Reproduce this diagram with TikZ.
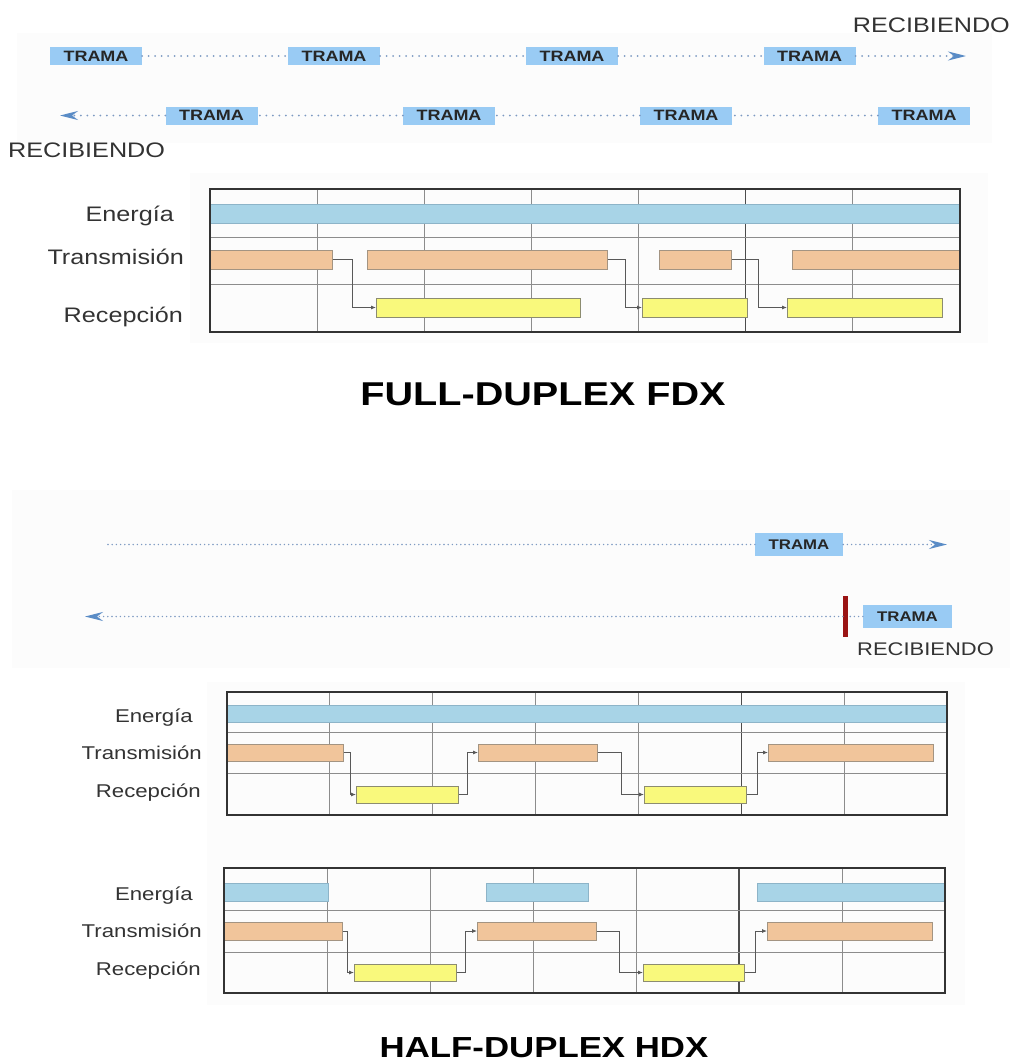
\documentclass[tikz,border=0pt]{standalone}
\usepackage{fontspec}
\setmainfont{Liberation Sans}
\newfontfamily\wide{Liberation Sans}[FakeStretch=1.2]
\usetikzlibrary{arrows.meta}

\definecolor{tramablue}{HTML}{99CBF4}
\definecolor{dotcol}{HTML}{7D9AC2}
\definecolor{arrowcol}{HTML}{5A8CC6}
\definecolor{enfill}{HTML}{A8D4E7}
\definecolor{enedge}{HTML}{8DB4C8}
\definecolor{txfill}{HTML}{F1C59B}
\definecolor{txedge}{HTML}{A39482}
\definecolor{rxfill}{HTML}{F9F97C}
\definecolor{rxedge}{HTML}{8C8C70}
\definecolor{redbar}{HTML}{9A1414}

\tikzset{
  panel/.style={fill=black!1},
  trama/.style={fill=tramablue,inner sep=0pt,text=black!85,
    font=\wide\bfseries\fontsize{15}{15}\selectfont,minimum width=92,minimum height=18},
  dots/.style={draw=dotcol,line width=2pt,line cap=round,dash pattern=on 0pt off 6.5pt},
  fine dots/.style={dots,line width=1.6pt,dash pattern=on 0pt off 4.2pt},
  tip/.style={-{Stealth[length=18pt,width=9pt,inset=6pt,color=arrowcol]}},
  lbl/.style={text=black!80,inner sep=0pt},
  gridln/.style={draw=black!45,line width=0.9pt},
  frame/.style={draw=black!80,line width=2.4pt},
  enbar/.style={fill=enfill,draw=enedge,line width=0.7pt,inner sep=0pt},
  txbar/.style={fill=txfill,draw=txedge,line width=0.7pt,inner sep=0pt},
  rxbar/.style={fill=rxfill,draw=rxedge,line width=0.7pt,inner sep=0pt},
  link/.style={draw=black!65,line width=0.8pt,-{Latex[length=5pt,width=4pt]}}
}

% bar from x1 to x2, centred on y
\newcommand\barra[6]{\node[#1,anchor=west,minimum width=#4-#3,minimum height=#6] (#2) at (#3,#5) {};}
% cell lines of a chart: left, top, right, bottom, two row lines
\newcommand\chartgrid[6]{%
  \foreach \k in {1,...,6}
    \draw[gridln] ({#1+\k*(#3-#1)/7},#2) -- ({#1+\k*(#3-#1)/7},#4);
  \draw[gridln,draw=black!70,line width=1.5pt] ({#1+5*(#3-#1)/7},#2) -- ({#1+5*(#3-#1)/7},#4);
  \draw[gridln] (#1,#5) -- (#3,#5) (#1,#6) -- (#3,#6);
}

\begin{document}
\begin{tikzpicture}[x=1pt,y=-1pt]
\useasboundingbox (0,0) rectangle (1015,1063);

% faint panels behind each part
\fill[panel] (17,33) rectangle (992,143);
\fill[panel] (190,173) rectangle (988,343);
\fill[panel] (12,490) rectangle (1010,668);
\fill[panel] (207,682) rectangle (965,1005);

% ---- full duplex: frames both ways
\node[trama] (f1) at (96,56) {TRAMA};
\node[trama] (f2) at (334,56) {TRAMA};
\node[trama] (f3) at (572,56) {TRAMA};
\node[trama] (f4) at (809.5,56) {TRAMA};
\coordinate (fend) at (966,56);
\draw[dots] (f1) -- (f2);
\draw[dots] (f2) -- (f3);
\draw[dots] (f3) -- (f4);
\draw[dots,tip] (f4) -- (fend);

\node[trama] (g1) at (211.5,115.5) {TRAMA};
\node[trama] (g2) at (449,115.5) {TRAMA};
\node[trama] (g3) at (686,115.5) {TRAMA};
\node[trama] (g4) at (924,115.5) {TRAMA};
\coordinate (gend) at (60,115.5);
\draw[dots] (g4) -- (g3);
\draw[dots] (g3) -- (g2);
\draw[dots] (g2) -- (g1);
\draw[dots,tip] (g1) -- (gend);

\node[lbl,anchor=base east,font=\wide\fontsize{21}{21}\selectfont] (recA) at (1010,32) {RECIBIENDO};
\node[lbl,anchor=base west,font=\wide\fontsize{21}{21}\selectfont] (recB) at (8,157) {RECIBIENDO};

% ---- full duplex chart
\chartgrid{210}{189}{960}{332}{237}{284}
\barra{enbar}{fe}{210}{960}{213.5}{19}
\barra{txbar}{ft1}{210}{332}{259.5}{19}
\barra{txbar}{ft2}{367}{607}{259.5}{19}
\barra{txbar}{ft3}{659}{731}{259.5}{19}
\barra{txbar}{ft4}{792}{960}{259.5}{19}
\barra{rxbar}{fr1}{376}{580}{307.5}{19}
\barra{rxbar}{fr2}{642}{747}{307.5}{19}
\barra{rxbar}{fr3}{787}{942}{307.5}{19}
\draw[link] (ft1.east) -- ++(20,0) |- (fr1.west);
\draw[link] (ft2.east) -- ++(18,0) |- (fr2.west);
\draw[link] (ft3.east) -- ++(27,0) |- (fr3.west);
\draw[frame] (210,189) rectangle (960,332);

\begin{scope}[every node/.style={lbl,anchor=base east,font=\wide\fontsize{21}{21}\selectfont}]
\node (fl1) at (174,221) {Energía};
\node (fl2) at (184,264) {Transmisión};
\node (fl3) at (183,322) {Recepción};
\end{scope}

\node[lbl,anchor=base,text=black,font=\wide\bfseries\fontsize{33}{33}\selectfont] (fdx) at (543,405) {FULL-DUPLEX FDX};

% ---- half duplex: one way at a time
\coordinate (hstart) at (108,544.5);
\coordinate (hend) at (947,544.5);
\node[trama,minimum width=88,minimum height=23,font=\wide\bfseries\fontsize{14}{14}\selectfont] (h1) at (799,544.5) {TRAMA};
\draw[fine dots] (hstart) -- (h1);
\draw[fine dots,tip] (h1) -- (hend);

\node[fill=redbar,inner sep=0pt,minimum width=5,minimum height=41] (rb) at (845.5,616.5) {};
\node[trama,minimum width=89,minimum height=23,font=\wide\bfseries\fontsize{14}{14}\selectfont] (h2) at (907.5,616.5) {TRAMA};
\coordinate (hback) at (85,616.5);
\draw[fine dots] (h2) -- (rb);
\draw[fine dots,tip] (rb) -- (hback);
\node[lbl,anchor=base west,font=\wide\fontsize{18.3}{18.3}\selectfont] (recC) at (857,655) {RECIBIENDO};

% ---- half duplex chart, energy always on
\chartgrid{227}{692}{947}{815}{732}{773}
\barra{enbar}{he}{227}{947}{713.5}{17}
\barra{txbar}{ht1}{227}{343}{752.5}{17}
\barra{txbar}{ht2}{478}{597}{752.5}{17}
\barra{txbar}{ht3}{768}{933}{752.5}{17}
\barra{rxbar}{hr1}{356}{458}{794.5}{17}
\barra{rxbar}{hr2}{644}{746}{794.5}{17}
\draw[link] (ht1.east) -- ++(7,0) |- (hr1.west);
\draw[link] (hr1.east) -- ++(9,0) |- (ht2.west);
\draw[link] (ht2.east) -- ++(24,0) |- (hr2.west);
\draw[link] (hr2.east) -- ++(11,0) |- (ht3.west);
\draw[frame] (227,692) rectangle (947,815);

% ---- half duplex chart, energy only when needed
\chartgrid{224}{868}{945}{993}{910}{952}
\barra{enbar}{ke1}{224}{328}{892}{18}
\barra{enbar}{ke2}{486}{588}{892}{18}
\barra{enbar}{ke3}{757}{945}{892}{18}
\barra{txbar}{kt1}{224}{342}{931}{18}
\barra{txbar}{kt2}{477}{596}{931}{18}
\barra{txbar}{kt3}{767}{932}{931}{18}
\barra{rxbar}{kr1}{354}{456}{972.5}{17}
\barra{rxbar}{kr2}{643}{744}{972.5}{17}
\draw[link] (kt1.east) -- ++(5,0) |- (kr1.west);
\draw[link] (kr1.east) -- ++(9,0) |- (kt2.west);
\draw[link] (kt2.east) -- ++(23,0) |- (kr2.west);
\draw[link] (kr2.east) -- ++(11,0) |- (kt3.west);
\draw[frame] (224,868) rectangle (945,993);

\begin{scope}[every node/.style={lbl,anchor=base east,font=\wide\fontsize{18.5}{18.5}\selectfont}]
\node (hl1) at (193,722) {Energía};
\node (hl2) at (202,759) {Transmisión};
\node (hl3) at (201,797) {Recepción};
\node (kl1) at (193,900) {Energía};
\node (kl2) at (202,937) {Transmisión};
\node (kl3) at (201,975) {Recepción};
\end{scope}

\node[lbl,anchor=base,text=black,font=\wide\bfseries\fontsize{29}{29}\selectfont] (hdx) at (544,1057) {HALF-DUPLEX HDX};
\end{tikzpicture}
\end{document}
